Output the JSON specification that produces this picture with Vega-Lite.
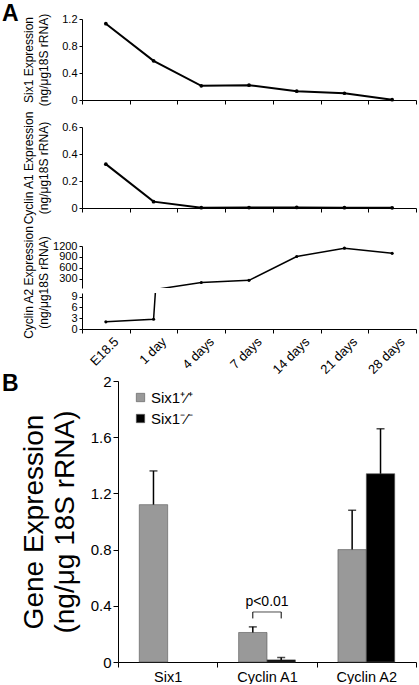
{
  "$schema": "https://vega.github.io/schema/vega-lite/v6.json",
  "padding": {"left": 2, "top": 3, "right": 0, "bottom": 0},
  "autosize": {"type": "pad"},
  "background": "white",
  "datasets": {
    "a": [
      {"day": "E18.5", "six1": 1.13, "cycA1": 0.325, "cycA2": 2.0},
      {"day": "1 day", "six1": 0.58, "cycA1": 0.047, "cycA2": 2.7},
      {"day": "4 days", "six1": 0.21, "cycA1": 0.002, "cycA2": 200},
      {"day": "7 days", "six1": 0.22, "cycA1": 0.003, "cycA2": 260},
      {"day": "14 days", "six1": 0.13, "cycA1": 0.004, "cycA2": 913},
      {"day": "21 days", "six1": 0.10, "cycA1": 0.002, "cycA2": 1140},
      {"day": "28 days", "six1": 0.005, "cycA1": 0.001, "cycA2": 1000}
    ],
    "b": [
      {"gene": "Six1", "genotype": "+/+", "value": 1.12, "upper": 1.36},
      {"gene": "Cyclin A1", "genotype": "+/+", "value": 0.21, "upper": 0.25},
      {"gene": "Cyclin A1", "genotype": "-/-", "value": 0.015, "upper": 0.032},
      {"gene": "Cyclin A2", "genotype": "+/+", "value": 0.80, "upper": 1.08},
      {"gene": "Cyclin A2", "genotype": "-/-", "value": 1.34, "upper": 1.66}
    ],
    "legs": [
      {"gene": "Cyclin A1", "genotype": "+/+", "low": 0.31, "high": 0.356},
      {"gene": "Cyclin A1", "genotype": "-/-", "low": 0.31, "high": 0.356}
    ],
    "note": [
      {"gene": "Cyclin A1", "top": 0.356, "pos": 0.40, "label": "p<0.01"}
    ]
  },
  "config": {
    "font": "Liberation Sans",
    "view": {"stroke": null},
    "axis": {
      "grid": false,
      "domainColor": "black",
      "tickColor": "black",
      "labelColor": "black",
      "titleColor": "black",
      "titleFontWeight": "normal",
      "domainWidth": 1,
      "tickWidth": 1,
      "labelOverlap": false
    },
    "title": {"color": "black"}
  },
  "resolve": {"legend": {"color": "independent"}},
  "bounds": "flush",
  "spacing": 0,
  "vconcat": [
    {
      "width": 334,
      "height": 81,
      "title": {"text": "A", "anchor": "start", "frame": "group", "fontSize": 23, "fontWeight": "bold", "dx": -80, "dy": 31, "offset": 0, "baseline": "alphabetic"},
      "data": {"name": "a"},
      "encoding": {
        "x": {"field": "day", "type": "ordinal", "sort": null, "scale": {"paddingInner": 0, "paddingOuter": 0},
              "axis": {"labels": false, "title": null, "tickBand": "extent", "tickSize": 4}},
        "y": {"field": "six1", "type": "quantitative", "scale": {"domain": [0, 1.2]},
              "axis": {"values": [0, 0.4, 0.8, 1.2], "format": "~g", "labelFontSize": 11, "tickSize": 3, "labelPadding": 2,
                       "minExtent": 22, "maxExtent": 22, "titlePadding": 10, "titleFontSize": 12, "titleLineHeight": 15,
                       "title": ["Six1 Expression", "(ng/μg18S rRNA)"]}}
      },
      "layer": [
        {"mark": {"type": "line", "color": "black", "strokeWidth": 2}},
        {"mark": {"type": "point", "filled": true, "color": "black", "size": 14, "opacity": 1}}
      ]
    },
    {"width": 334, "height": 27, "data": {"values": []}, "mark": {"type": "point", "opacity": 0}},
    {
      "width": 334,
      "height": 81,
      "data": {"name": "a"},
      "encoding": {
        "x": {"field": "day", "type": "ordinal", "sort": null, "scale": {"paddingInner": 0, "paddingOuter": 0},
              "axis": {"labels": false, "title": null, "tickBand": "extent", "tickSize": 4}},
        "y": {"field": "cycA1", "type": "quantitative", "scale": {"domain": [0, 0.6]},
              "axis": {"values": [0, 0.2, 0.4, 0.6], "format": "~g", "labelFontSize": 11, "tickSize": 3, "labelPadding": 2,
                       "minExtent": 22, "maxExtent": 22, "titlePadding": 10, "titleFontSize": 12, "titleLineHeight": 15,
                       "title": ["Cyclin A1 Expression", "(ng/μg18S rRNA)"]}}
      },
      "layer": [
        {"mark": {"type": "line", "color": "black", "strokeWidth": 2}},
        {"mark": {"type": "point", "filled": true, "color": "black", "size": 14, "opacity": 1}}
      ]
    },
    {"width": 334, "height": 38, "data": {"values": []}, "mark": {"type": "point", "opacity": 0}},
    {
      "width": 334,
      "height": 42,
      "data": {"name": "a"},
      "encoding": {
        "x": {"field": "day", "type": "ordinal", "sort": null, "scale": {"paddingInner": 0, "paddingOuter": 0}, "axis": null},
        "y": {"field": "cycA2", "type": "quantitative", "scale": {"domain": [50, 1200]},
              "axis": {"values": [300, 600, 900, 1200], "format": "d", "labelFontSize": 11, "tickSize": 3, "labelPadding": 2,
                       "minExtent": 22, "maxExtent": 22, "titlePadding": 10, "titleFontSize": 12, "titleLineHeight": 15,
                       "titleY": 36,
                       "title": ["Cyclin A2 Expression", "(ng/μg18S rRNA)"]}}
      },
      "layer": [
        {"mark": {"type": "line", "color": "black", "strokeWidth": 1.5, "clip": true}},
        {"transform": [{"filter": "datum.cycA2 >= 50"}],
         "mark": {"type": "point", "filled": true, "color": "black", "size": 10, "opacity": 1, "clip": true}}
      ]
    },
    {"width": 334, "height": 4.5, "data": {"values": []}, "mark": {"type": "point", "opacity": 0}},
    {
      "width": 334,
      "height": 36,
      "data": {"name": "a"},
      "encoding": {
        "x": {"field": "day", "type": "ordinal", "sort": null, "scale": {"paddingInner": 0, "paddingOuter": 0},
              "axis": {"title": null, "tickBand": "extent", "tickSize": 4, "labelAngle": -45, "labelFontSize": 13, "labelPadding": 2, "labelOffset": 6}},
        "y": {"field": "cycA2", "type": "quantitative", "scale": {"domain": [0, 10]},
              "axis": {"values": [0, 3, 6, 9], "labelFontSize": 11, "tickSize": 3, "labelPadding": 2, "title": null}}
      },
      "layer": [
        {"mark": {"type": "line", "color": "black", "strokeWidth": 1.5, "clip": true}},
        {"transform": [{"filter": "datum.cycA2 <= 10"}],
         "mark": {"type": "point", "filled": true, "color": "black", "size": 10, "opacity": 1, "clip": true}}
      ]
    },
    {"width": 334, "height": 51.5, "data": {"values": []}, "mark": {"type": "point", "opacity": 0}},
    {
      "width": 334,
      "height": 281,
      "title": {"text": "B", "anchor": "start", "frame": "group", "fontSize": 23, "fontWeight": "bold", "dx": -80, "dy": 40, "offset": 0, "baseline": "alphabetic"},
      "encoding": {
        "x": {"field": "gene", "type": "nominal",
              "scale": {"domain": ["Six1", "Cyclin A1", "Cyclin A2"], "range": [36, 334], "paddingInner": 0, "paddingOuter": 0},
              "axis": {"title": null, "labelAngle": 0, "labelFontSize": 14.5, "tickBand": "extent", "tickSize": 5, "labelPadding": 3}}
      },
      "layer": [
        {
          "data": {"name": "b"},
          "mark": {"type": "bar", "stroke": "#555555", "strokeWidth": 0.6},
          "encoding": {
            "xOffset": {"field": "genotype", "type": "nominal", "scale": {"domain": ["+/+", "-/-"], "paddingOuter": 0.75, "paddingInner": 0}},
            "y": {"field": "value", "type": "quantitative", "scale": {"domain": [0, 2]},
                  "axis": {"offset": -36, "values": [0, 0.4, 0.8, 1.2, 1.6, 2], "format": "~g", "labelFontSize": 15, "tickSize": 5, "labelPadding": 2,
                           "titleFontSize": 28, "titleLineHeight": 31, "titlePadding": 11,
                           "title": ["Gene Expression", "(ng/μg 18S rRNA)"]}},
            "color": {"field": "genotype", "type": "nominal",
                      "scale": {"domain": ["+/+", "-/-"], "range": ["#999999", "#000000"]},
                      "legend": {"orient": "none", "legendX": 51, "legendY": 9, "title": null, "padding": 0,
                                 "symbolType": "square", "symbolSize": 70, "symbolStrokeColor": "#555555", "symbolStrokeWidth": 0.6,
                                 "labelFontSize": 15, "labelOffset": 3, "rowPadding": 5, "labelColor": "black",
                                 "labelExpr": "datum.label == '+/+' ? 'Six1⁺⁄⁺' : 'Six1⁻⁄⁻'"}}
          }
        },
        {
          "data": {"name": "b"},
          "mark": {"type": "rule", "color": "black", "strokeWidth": 1.5},
          "encoding": {
            "xOffset": {"field": "genotype", "type": "nominal", "scale": {"domain": ["+/+", "-/-"], "paddingOuter": 0.75, "paddingInner": 0}},
            "y": {"field": "value", "type": "quantitative"},
            "y2": {"field": "upper"}
          }
        },
        {
          "data": {"name": "b"},
          "mark": {"type": "tick", "color": "black", "thickness": 1.5, "size": 8},
          "encoding": {
            "xOffset": {"field": "genotype", "type": "nominal", "scale": {"domain": ["+/+", "-/-"], "paddingOuter": 0.75, "paddingInner": 0}},
            "y": {"field": "upper", "type": "quantitative"}
          }
        },
        {
          "data": {"name": "legs"},
          "mark": {"type": "rule", "color": "black", "strokeWidth": 1},
          "encoding": {
            "xOffset": {"field": "genotype", "type": "nominal", "scale": {"domain": ["+/+", "-/-"], "paddingOuter": 0.75, "paddingInner": 0}},
            "y": {"field": "low", "type": "quantitative"},
            "y2": {"field": "high"}
          }
        },
        {
          "data": {"name": "note"},
          "mark": {"type": "tick", "color": "black", "thickness": 1, "size": 28.4},
          "encoding": {"y": {"field": "top", "type": "quantitative"}}
        },
        {
          "data": {"name": "note"},
          "mark": {"type": "text", "color": "black", "fontSize": 14, "baseline": "alphabetic"},
          "encoding": {"y": {"field": "pos", "type": "quantitative"}, "text": {"field": "label"}}
        }
      ]
    }
  ]
}
